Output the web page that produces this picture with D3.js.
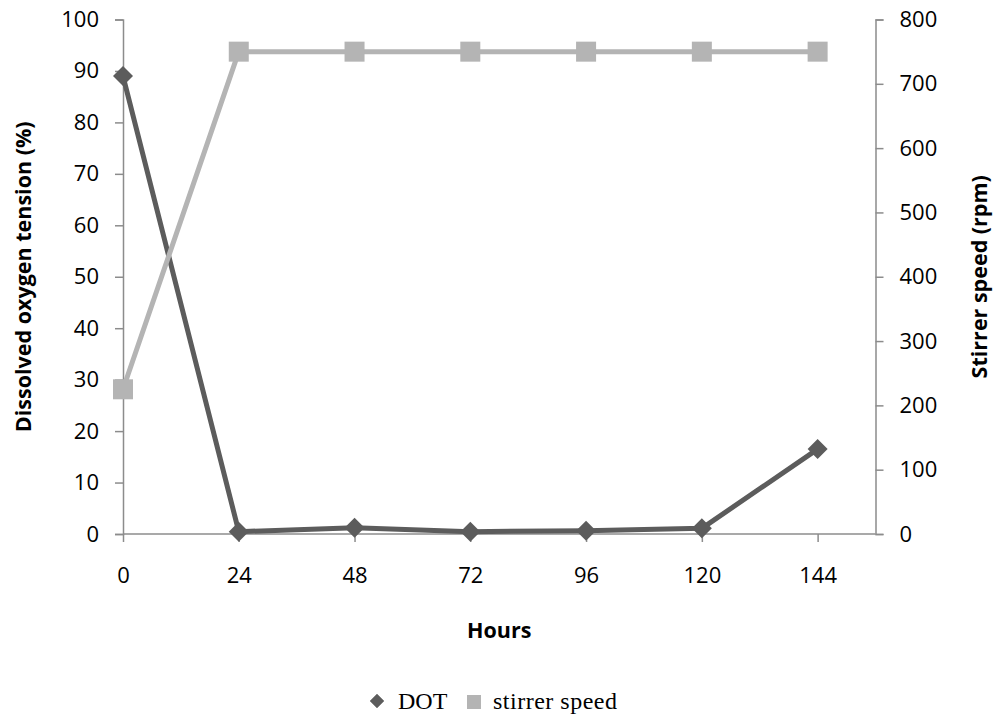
<!DOCTYPE html>
<html>
<head>
<meta charset="utf-8">
<script src="https://cdn.jsdelivr.net/npm/d3@7"></script>
<style>
  html, body { margin: 0; padding: 0; background: #fff; }
  svg { display: block; }
</style>
</head>
<body>
<svg id="chart" width="996" height="718"></svg>
<script>
// Sampling times (hours)
const hours = [0, 24, 48, 72, 96, 120, 144];
// Dissolved oxygen tension (%)
const dotValues = [89, 0.45, 1.2, 0.45, 0.65, 1.1, 16.5];
// Stirrer speed (rpm)
const stirrerValues = [225, 750, 750, 750, 750, 750, 750];
// Axis ticks
const leftTicks = [0, 10, 20, 30, 40, 50, 60, 70, 80, 90, 100];
const rightTicks = [0, 100, 200, 300, 400, 500, 600, 700, 800];
const hourTicks = [0, 24, 48, 72, 96, 120, 144];

const svg = d3.select("#chart");
const axisColor = "#8c8c8c";
const dotColor = "#5c5c5c";
const stirColor = "#b4b4b4";
const tickFont = "'Open Sans', sans-serif";

const plotLeft = 123, plotRight = 875.5, plotTop = 19.5, plotBottom = 534;

const x = d3.scaleLinear().domain([0, 156]).range([plotLeft, plotRight]);
const yL = d3.scaleLinear().domain([0, 100]).range([plotBottom, plotTop]);
const yR = d3.scaleLinear().domain([0, 800]).range([plotBottom, plotTop]);

function styleAxis(g) {
  g.select(".domain").attr("stroke", axisColor).attr("stroke-width", 1.5);
  g.selectAll(".tick line").attr("stroke", axisColor).attr("stroke-width", 1.5);
  g.selectAll(".tick text")
    .attr("fill", "#000")
    .style("font-family", tickFont)
    .style("font-size", "22px");
}

// Left axis
svg.append("g")
  .attr("transform", `translate(${plotLeft},0)`)
  .call(d3.axisLeft(yL).tickValues(leftTicks).tickSize(8).tickSizeOuter(8).tickPadding(16))
  .call(styleAxis);

// Right axis
svg.append("g")
  .attr("transform", `translate(${plotRight},0)`)
  .call(d3.axisRight(yR).tickValues(rightTicks).tickSize(8).tickSizeOuter(8).tickPadding(16))
  .call(styleAxis);

// Bottom axis
const xg = svg.append("g")
  .attr("transform", `translate(0,${plotBottom})`)
  .call(d3.axisBottom(x).tickValues(hourTicks).tickSize(8).tickSizeOuter(0).tickPadding(25))
  .call(styleAxis);
xg.select(".domain").attr("d", `M${plotLeft},0H${plotRight}`);

// Axis titles
const titleSize = "21.5px";
svg.append("text")
  .attr("x", (plotLeft + plotRight) / 2).attr("y", 638)
  .attr("text-anchor", "middle")
  .style("font-family", tickFont).style("font-weight", "bold").style("font-size", titleSize)
  .text("Hours");

svg.append("text")
  .attr("transform", `translate(31,${(plotTop + plotBottom) / 2}) rotate(-90)`)
  .attr("text-anchor", "middle")
  .style("font-family", tickFont).style("font-weight", "bold").style("font-size", titleSize)
  .text("Dissolved oxygen tension (%)");

svg.append("text")
  .attr("transform", `translate(987,${(plotTop + plotBottom) / 2}) rotate(-90)`)
  .attr("text-anchor", "middle")
  .style("font-family", tickFont).style("font-weight", "bold").style("font-size", titleSize)
  .text("Stirrer speed (rpm)");

// DOT series
const dotData = hours.map((h, i) => ({ h, v: dotValues[i] }));
svg.append("path")
  .datum(dotData)
  .attr("fill", "none").attr("stroke", dotColor).attr("stroke-width", 5)
  .attr("stroke-linejoin", "round")
  .attr("d", d3.line().x(d => x(d.h)).y(d => yL(d.v)));
svg.selectAll(".dotMark").data(dotData).join("path")
  .attr("class", "dotMark")
  .attr("fill", dotColor)
  .attr("transform", d => `translate(${x(d.h)},${yL(d.v)})`)
  .attr("d", "M0,-10L10,0L0,10L-10,0Z");

// Stirrer speed series
const stirData = hours.map((h, i) => ({ h, v: stirrerValues[i] }));
svg.append("path")
  .datum(stirData)
  .attr("fill", "none").attr("stroke", stirColor).attr("stroke-width", 5)
  .attr("stroke-linejoin", "round")
  .attr("d", d3.line().x(d => x(d.h)).y(d => yR(d.v)));
svg.selectAll(".stirMark").data(stirData).join("rect")
  .attr("class", "stirMark")
  .attr("fill", stirColor)
  .attr("x", d => x(d.h) - 10).attr("y", d => yR(d.v) - 10)
  .attr("width", 20).attr("height", 20);

// Legend
const legendFont = "'Liberation Serif', 'Times New Roman', serif";
const lg = svg.append("g");
lg.append("path")
  .attr("fill", dotColor).attr("stroke", "#8a8a8a").attr("stroke-width", 1)
  .attr("transform", "translate(377,701)")
  .attr("d", "M0,-7L7,0L0,7L-7,0Z");
lg.append("text")
  .attr("x", 398).attr("y", 709)
  .style("font-family", legendFont).style("font-size", "24px")
  .text("DOT");
lg.append("rect")
  .attr("fill", stirColor)
  .attr("x", 467).attr("y", 695).attr("width", 14).attr("height", 14);
lg.append("text")
  .attr("x", 493).attr("y", 709)
  .style("font-family", legendFont).style("font-size", "24px")
  .style("letter-spacing", "0.5px")
  .text("stirrer speed");
</script>
</body>
</html>
